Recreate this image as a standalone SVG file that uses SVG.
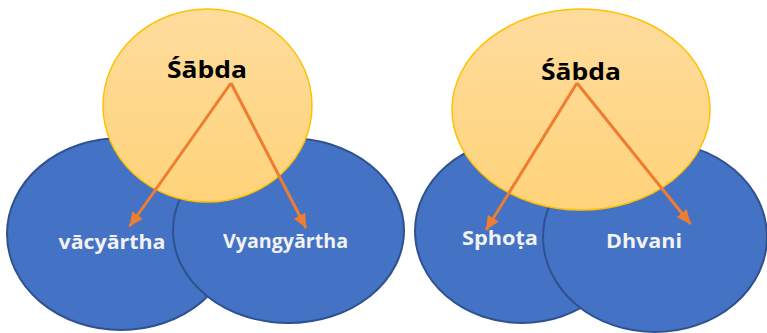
<svg xmlns="http://www.w3.org/2000/svg" width="767" height="333" viewBox="0 0 767 333">
  <defs>
    <linearGradient id="gold" x1="0" y1="0" x2="0" y2="1">
      <stop offset="0" stop-color="#FEDC9D"/>
      <stop offset="1" stop-color="#FFD37A"/>
    </linearGradient>
    <marker id="head" markerUnits="userSpaceOnUse" markerWidth="16" markerHeight="14" refX="14" refY="6.5" orient="auto">
      <path d="M0,0 L14,6.5 L0,13 Z" fill="#ED7D31"/>
    </marker>
    <style>
      .blue { fill: #4472C4; stroke: #2F528F; stroke-width: 2; }
      .yellow { fill: url(#gold); stroke: #FFC000; stroke-width: 1.5; }
      .lbl { font-family: "Open Sans", "Liberation Sans", sans-serif; font-weight: bold; font-size: 20px; fill: #F2F2F2; text-anchor: middle; }
      .title { font-family: "Open Sans", "Liberation Sans", sans-serif; font-weight: bold; font-size: 24px; fill: #000000; text-anchor: middle; }
      .arrow { stroke: #ED7D31; stroke-width: 3; fill: none; marker-end: url(#head); }
    </style>
  </defs>

  <g id="vacyartha">
    <ellipse class="blue" cx="121" cy="234" rx="114" ry="96"/>
    <text class="lbl" x="112" y="249" textLength="107" lengthAdjust="spacingAndGlyphs">vācyārtha</text>
  </g>
  <g id="vyangyartha">
    <ellipse class="blue" cx="288.5" cy="230.5" rx="115.5" ry="92.5"/>
    <text class="lbl" x="285.5" y="248" textLength="125" lengthAdjust="spacingAndGlyphs">Vyangyārtha</text>
  </g>
  <g id="sphota">
    <ellipse class="blue" cx="522" cy="231" rx="107" ry="92"/>
    <text class="lbl" x="500" y="245" textLength="76" lengthAdjust="spacingAndGlyphs">Sphoṭa</text>
  </g>
  <g id="dhvani">
    <ellipse class="blue" cx="655" cy="237" rx="112" ry="95"/>
    <text class="lbl" x="644" y="248" textLength="76" lengthAdjust="spacingAndGlyphs">Dhvani</text>
  </g>
  <g id="sabda-left">
    <ellipse class="yellow" cx="207.5" cy="105.5" rx="104.5" ry="96.5"/>
    <text class="title" x="207" y="78" textLength="80" lengthAdjust="spacingAndGlyphs">Śābda</text>
  </g>
  <g id="sabda-right">
    <ellipse class="yellow" cx="581" cy="109.5" rx="129" ry="100.5"/>
    <text class="title" x="581" y="80" textLength="80" lengthAdjust="spacingAndGlyphs">Śābda</text>
  </g>

  <g id="connectors">
    <line class="arrow" x1="231" y1="83" x2="129.5" y2="226.5"/>
    <line class="arrow" x1="231" y1="83" x2="306" y2="228"/>
    <line class="arrow" x1="577" y1="83" x2="486" y2="230"/>
    <line class="arrow" x1="577" y1="83" x2="690.5" y2="224"/>
  </g>
</svg>
